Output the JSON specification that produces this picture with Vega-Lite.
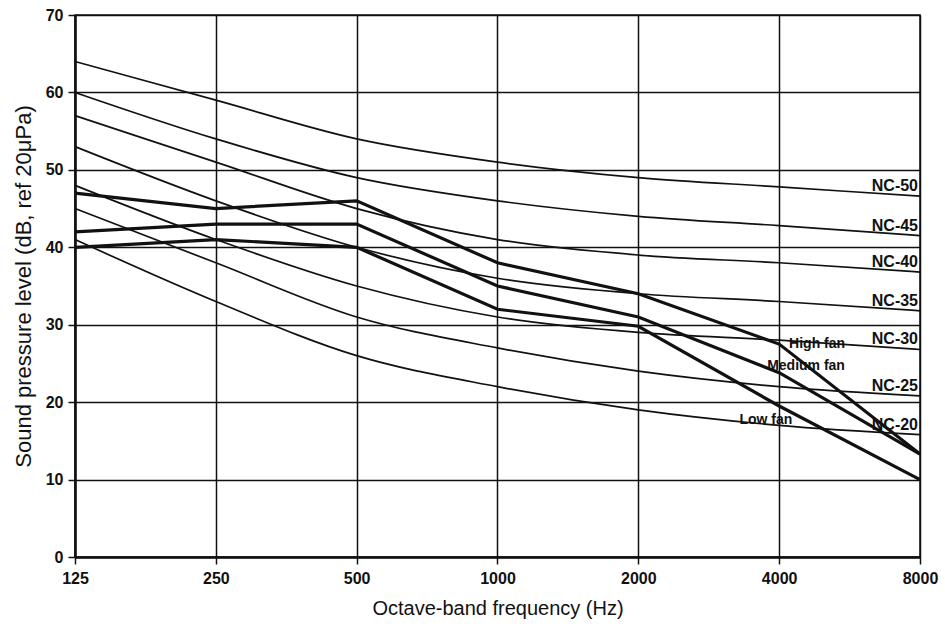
{
  "$schema": "https://vega.github.io/schema/vega-lite/v6.json",
  "width": 845,
  "height": 542,
  "autosize": {"type": "none"},
  "padding": {"left": 75, "top": 15, "right": 25, "bottom": 78},
  "background": "white",
  "config": {
    "view": {"stroke": "#111", "strokeWidth": 1.5},
    "font": "Liberation Sans",
    "axis": {"domainColor": "#111", "gridColor": "#111", "gridOpacity": 1, "gridWidth": 1.5, "tickColor": "#111", "tickWidth": 1.5, "labelColor": "#111", "titleColor": "#111", "labelFont": "Liberation Sans", "titleFont": "Liberation Sans", "labelFontWeight": "bold", "labelFontSize": 16, "titleFontWeight": "normal", "domainWidth": 2.5}
  },
  "datasets": {
    "nc": [
      {"curve": "NC-50", "f": 125, "db": 64}, {"curve": "NC-50", "f": 250, "db": 59}, {"curve": "NC-50", "f": 500, "db": 54}, {"curve": "NC-50", "f": 1000, "db": 51}, {"curve": "NC-50", "f": 2000, "db": 49}, {"curve": "NC-50", "f": 4000, "db": 47.8}, {"curve": "NC-50", "f": 8000, "db": 46.6},
      {"curve": "NC-45", "f": 125, "db": 60}, {"curve": "NC-45", "f": 250, "db": 54}, {"curve": "NC-45", "f": 500, "db": 49}, {"curve": "NC-45", "f": 1000, "db": 46}, {"curve": "NC-45", "f": 2000, "db": 44}, {"curve": "NC-45", "f": 4000, "db": 42.8}, {"curve": "NC-45", "f": 8000, "db": 41.5},
      {"curve": "NC-40", "f": 125, "db": 57}, {"curve": "NC-40", "f": 250, "db": 51}, {"curve": "NC-40", "f": 500, "db": 45}, {"curve": "NC-40", "f": 1000, "db": 41}, {"curve": "NC-40", "f": 2000, "db": 39}, {"curve": "NC-40", "f": 4000, "db": 38}, {"curve": "NC-40", "f": 8000, "db": 36.8},
      {"curve": "NC-35", "f": 125, "db": 53}, {"curve": "NC-35", "f": 250, "db": 46}, {"curve": "NC-35", "f": 500, "db": 40}, {"curve": "NC-35", "f": 1000, "db": 36}, {"curve": "NC-35", "f": 2000, "db": 34}, {"curve": "NC-35", "f": 4000, "db": 33}, {"curve": "NC-35", "f": 8000, "db": 31.8},
      {"curve": "NC-30", "f": 125, "db": 48}, {"curve": "NC-30", "f": 250, "db": 41}, {"curve": "NC-30", "f": 500, "db": 35}, {"curve": "NC-30", "f": 1000, "db": 31}, {"curve": "NC-30", "f": 2000, "db": 29}, {"curve": "NC-30", "f": 4000, "db": 28}, {"curve": "NC-30", "f": 8000, "db": 26.8},
      {"curve": "NC-25", "f": 125, "db": 45}, {"curve": "NC-25", "f": 250, "db": 38}, {"curve": "NC-25", "f": 500, "db": 31}, {"curve": "NC-25", "f": 1000, "db": 27}, {"curve": "NC-25", "f": 2000, "db": 24}, {"curve": "NC-25", "f": 4000, "db": 22}, {"curve": "NC-25", "f": 8000, "db": 20.8},
      {"curve": "NC-20", "f": 125, "db": 41}, {"curve": "NC-20", "f": 250, "db": 33}, {"curve": "NC-20", "f": 500, "db": 26}, {"curve": "NC-20", "f": 1000, "db": 22}, {"curve": "NC-20", "f": 2000, "db": 19}, {"curve": "NC-20", "f": 4000, "db": 17}, {"curve": "NC-20", "f": 8000, "db": 15.8}
    ],
    "fan": [
      {"fan": "High fan", "f": 125, "db": 47}, {"fan": "High fan", "f": 250, "db": 45}, {"fan": "High fan", "f": 500, "db": 46}, {"fan": "High fan", "f": 1000, "db": 38}, {"fan": "High fan", "f": 2000, "db": 34}, {"fan": "High fan", "f": 4000, "db": 27.5}, {"fan": "High fan", "f": 8000, "db": 13.3},
      {"fan": "Medium fan", "f": 125, "db": 42}, {"fan": "Medium fan", "f": 250, "db": 43}, {"fan": "Medium fan", "f": 500, "db": 43}, {"fan": "Medium fan", "f": 1000, "db": 35}, {"fan": "Medium fan", "f": 2000, "db": 31}, {"fan": "Medium fan", "f": 4000, "db": 23.8}, {"fan": "Medium fan", "f": 8000, "db": 13.3},
      {"fan": "Low fan", "f": 125, "db": 40}, {"fan": "Low fan", "f": 250, "db": 41}, {"fan": "Low fan", "f": 500, "db": 40}, {"fan": "Low fan", "f": 1000, "db": 32}, {"fan": "Low fan", "f": 2000, "db": 29.8}, {"fan": "Low fan", "f": 4000, "db": 19.5}, {"fan": "Low fan", "f": 8000, "db": 10}
    ],
    "nclabels": [
      {"label": "NC-50", "f": 8000, "db": 46.6},
      {"label": "NC-45", "f": 8000, "db": 41.5},
      {"label": "NC-40", "f": 8000, "db": 36.8},
      {"label": "NC-35", "f": 8000, "db": 31.8},
      {"label": "NC-30", "f": 8000, "db": 26.8},
      {"label": "NC-25", "f": 8000, "db": 20.8},
      {"label": "NC-20", "f": 8000, "db": 15.8}
    ],
    "fanlabels": [
      {"label": "High fan", "f": 4200, "db": 27.5},
      {"label": "Medium fan", "f": 3770, "db": 24.7},
      {"label": "Low fan", "f": 3290, "db": 17.7}
    ]
  },
  "encoding": {
    "x": {"field": "f", "type": "quantitative", "scale": {"type": "log", "base": 2, "domain": [125, 8000], "nice": false},
      "axis": {"values": [125, 250, 500, 1000, 2000, 4000, 8000], "title": "Octave-band frequency (Hz)", "grid": true, "tickSize": 7, "labelPadding": 6, "titlePadding": 12, "titleFontSize": 20, "format": "d", "labelFlush": false, "labelOverlap": false}},
    "y": {"field": "db", "type": "quantitative", "scale": {"domain": [0, 70], "nice": false},
      "axis": {"values": [0, 10, 20, 30, 40, 50, 60, 70], "title": "Sound pressure level (dB, ref 20μPa)", "grid": true, "tickSize": 7, "labelPadding": 5, "titlePadding": 10, "titleFontSize": 22, "labelFlush": false}}
  },
  "layer": [
    {"data": {"name": "nc"}, "mark": {"type": "line", "color": "#111", "strokeWidth": 1.7, "interpolate": "monotone"}, "encoding": {"detail": {"field": "curve"}}},
    {"data": {"name": "fan"}, "mark": {"type": "line", "color": "#111", "strokeWidth": 3.2, "interpolate": "linear"}, "encoding": {"detail": {"field": "fan"}}},
    {"data": {"name": "nclabels"}, "mark": {"type": "text", "align": "right", "baseline": "bottom", "dx": -2, "dy": -2, "fontSize": 16, "fontWeight": "bold", "color": "#111", "font": "Liberation Sans"}, "encoding": {"text": {"field": "label"}}},
    {"data": {"name": "fanlabels"}, "mark": {"type": "text", "align": "left", "baseline": "middle", "fontSize": 14, "fontWeight": "bold", "color": "#111", "font": "Liberation Sans"}, "encoding": {"text": {"field": "label"}}}
  ]
}
